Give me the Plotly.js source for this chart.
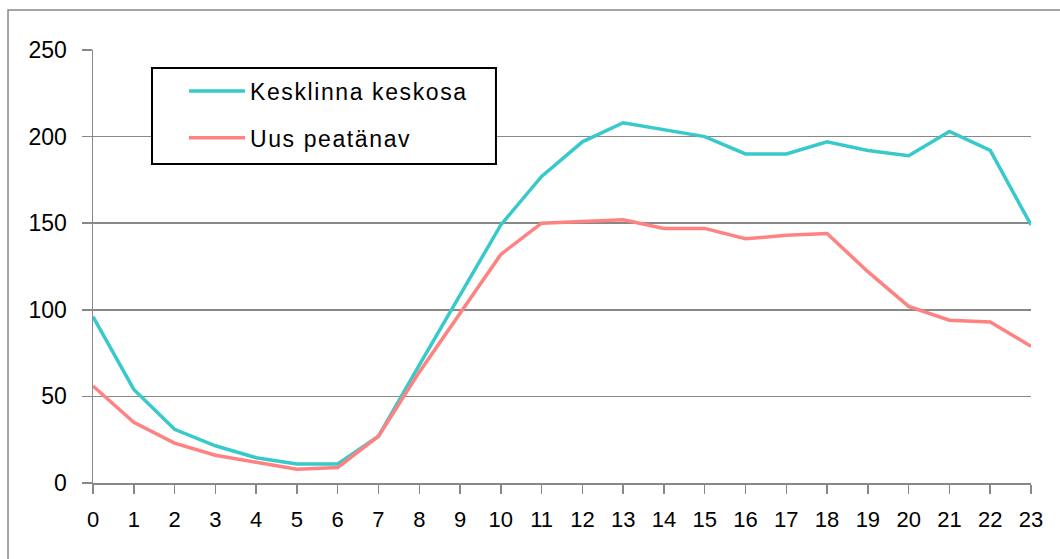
<!DOCTYPE html>
<html>
<head>
<meta charset="utf-8">
<script src="https://cdn.plot.ly/plotly-3.0.1.min.js"></script>
<style>
  html, body { margin: 0; padding: 0; background: #ffffff; }
  #chart { width: 1060px; height: 559px; }
  .legendtext { letter-spacing: 1.6px; }
</style>
</head>
<body>
<div id="chart"></div>
<script>
// Hours of the day
var hours = [0, 1, 2, 3, 4, 5, 6, 7, 8, 9, 10, 11, 12, 13, 14, 15, 16, 17, 18, 19, 20, 21, 22, 23];
var hourLabels = ["0","1","2","3","4","5","6","7","8","9","10","11","12","13","14","15","16","17","18","19","20","21","22","23"];

// Series
var seriesNames = ["Kesklinna keskosa", "Uus peatänav"];
var kesklinnaKeskosa = [96, 54, 31, 21.5, 14.6, 11, 11, 27, 68, 109, 149, 177, 197, 208, 204, 200, 190, 190, 197, 192, 189, 203, 192, 149];
var uusPeatanav = [56, 35, 23, 16, 12, 8, 9, 27, 64, 98, 132, 150, 151, 152, 147, 147, 141, 143, 144, 122, 102, 94, 93, 79];

// Y axis ticks
var yTicks = [0, 50, 100, 150, 200, 250];

var font = "Liberation Sans, Arial, sans-serif";
var gridColor = "#888888";

var traces = [
  {
    x: hours, y: kesklinnaKeskosa, name: seriesNames[0], type: "scatter", mode: "lines",
    line: { color: "#38CACA", width: 3.5 }, legendgroup: "a"
  },
  {
    x: hours, y: uusPeatanav, name: seriesNames[1], type: "scatter", mode: "lines",
    line: { color: "#FF8282", width: 3.5 }, legendgroup: "b"
  }
];

var layout = {
  width: 1060, height: 559,
  margin: { l: 93, r: 29, t: 50, b: 76, pad: 0 },
  paper_bgcolor: "#ffffff", plot_bgcolor: "#ffffff",
  font: { family: font, size: 23, color: "#000000" },
  xaxis: {
    range: [0, 23], tickvals: hours, ticktext: hourLabels,
    showgrid: false, zeroline: false, showline: true, linecolor: gridColor, linewidth: 1.5,
    ticks: "outside", ticklen: 9, tickcolor: gridColor, tickwidth: 1.5,
    ticklabelstandoff: 7,
    tickfont: { family: font, size: 22, color: "#000000" }, fixedrange: true
  },
  yaxis: {
    range: [0, 250], tickvals: yTicks,
    showgrid: true, gridcolor: gridColor, gridwidth: 1.5,
    zeroline: false, showline: true, linecolor: gridColor, linewidth: 1.5,
    ticks: "outside", ticklen: 10, tickcolor: gridColor, tickwidth: 1.5,
    ticklabelstandoff: 10,
    tickfont: { family: font, size: 23, color: "#000000" }, fixedrange: true
  },
  showlegend: true,
  legend: {
    x: 0.097, y: 0.955, xanchor: "left", yanchor: "top",
    bgcolor: "rgba(0,0,0,0)", borderwidth: 0,
    font: { family: font, size: 23, color: "#000000" },
    traceorder: "grouped", tracegroupgap: 14,
    itemwidth: 56
  },
  shapes: [
    {
      type: "rect", xref: "paper", yref: "paper",
      x0: -0.0906, x1: 1.3, y0: -0.5, y1: 1.0924,
      line: { color: gridColor, width: 1.5 }, fillcolor: "rgba(0,0,0,0)", layer: "below"
    },
    {
      type: "rect", xref: "paper", yref: "paper",
      x0: 0.0629, x1: 0.4296, y0: 0.7367, y1: 0.9584,
      line: { color: "#000000", width: 2 }, fillcolor: "#ffffff", layer: "above"
    }
  ]
};

Plotly.newPlot("chart", traces, layout, { displayModeBar: false, staticPlot: true });
</script>
</body>
</html>
